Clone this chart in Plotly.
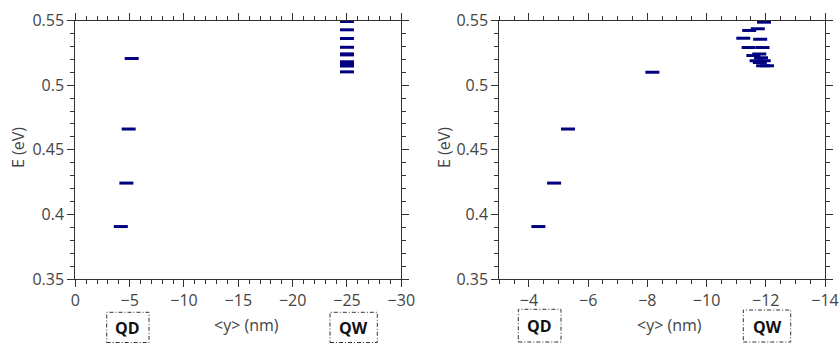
import plotly.graph_objects as go

# ---- data ----
left_qd_y = [-4.19, -4.70, -4.91, -5.19]
left_qd_E = [0.3907, 0.4243, 0.4661, 0.5206]
left_qw_y = [-25.0] * 11
left_qw_E = [0.5492, 0.5428, 0.5361, 0.5293, 0.5242, 0.5234, 0.5181, 0.5169, 0.5158, 0.5148, 0.5103]

right_qd_y = [-4.32, -4.85, -5.32, -8.17]
right_qd_E = [0.3907, 0.4243, 0.4661, 0.5100]
right_qw_y = [-11.94, -11.73, -11.44, -11.24, -11.81, -11.42, -11.89, -11.78, -11.58,
              -11.84, -11.69, -11.93, -11.80, -11.91, -12.04]
right_qw_E = [0.5487, 0.5436, 0.5423, 0.5363, 0.5355, 0.5291, 0.5291, 0.5241, 0.5229,
              0.5212, 0.5189, 0.5189, 0.5175, 0.5150, 0.5150]

x_title = "&lt;y&gt; (nm)"
y_title = "E (eV)"
region_labels = ["QD", "QW"]

COLOR = "#000080"
FONT = "Open Sans"
TXT = "#444"
AXC = "#333"

W, H = 839, 345
ML, MR, MT, MB = 40, 10, 10, 40
PW, PH = W - ML - MR, H - MT - MB


def px(x):
    return (x - ML) / PW


def py(y):
    return (H - MB - y) / PH


fig = go.Figure()

marker = dict(symbol="line-ew", size=10, line=dict(color=COLOR, width=3), color=COLOR)
for xs, es, ax in [(left_qd_y + left_qw_y, left_qd_E + left_qw_E, ("x", "y")),
                   (right_qd_y + right_qw_y, right_qd_E + right_qw_E, ("x2", "y2"))]:
    fig.add_trace(go.Scatter(x=xs, y=es, mode="markers", marker=marker, hoverinfo="skip",
                             xaxis=ax[0], yaxis=ax[1], showlegend=False, cliponaxis=False))

common = dict(showline=True, linecolor=AXC, linewidth=1, mirror="ticks", ticks="outside",
              ticklen=7, tickcolor=AXC, showgrid=False, zeroline=False, automargin=False,
              tickfont=dict(family=FONT, size=16, color=TXT))
ydom = [py(279.2), py(20.5)]
mnr = dict(ticklen=4, ticks="outside", tickcolor=AXC)

fig.update_layout(
    template="none",
    width=W, height=H, margin=dict(l=ML, r=MR, t=MT, b=MB),
    paper_bgcolor="white", plot_bgcolor="white",
    xaxis=dict(domain=[px(75.3), px(401.3)], range=[0, -30], dtick=5, tick0=0,
               minor=dict(dtick=1, **mnr), anchor="y", **common),
    yaxis=dict(domain=ydom, range=[0.35, 0.55], dtick=0.05, tick0=0,
               minor=dict(dtick=0.01, **mnr), anchor="x", **common),
    xaxis2=dict(domain=[px(499.3), px(825)], range=[-3, -14], dtick=2, tick0=0,
                minor=dict(dtick=0.5, **mnr), anchor="y2", **common),
    yaxis2=dict(domain=ydom, range=[0.35, 0.55], dtick=0.05, tick0=0,
                minor=dict(dtick=0.01, **mnr), anchor="x2", **common),
)

ann = []
shapes = []
# axis titles
for cx in (246.3, 669):
    ann.append(dict(text=x_title, x=px(cx), y=py(325), xref="paper", yref="paper",
                    showarrow=False, xanchor="center", yanchor="middle",
                    font=dict(family=FONT, size=16, color=TXT)))
for cx in (18, 444):
    ann.append(dict(text=y_title, x=px(cx), y=py(148), xref="paper", yref="paper",
                    showarrow=False, xanchor="center", yanchor="middle", textangle=-90,
                    font=dict(family=FONT, size=16, color=TXT)))

# region label boxes: (label, x0, x1, y0, y1)
boxes = [(region_labels[0], 106.7, 149.0, 312.3, 342.5),
         (region_labels[1], 330.0, 377.3, 312.3, 342.5),
         (region_labels[0], 518.3, 561.0, 309.3, 342.0),
         (region_labels[1], 743.3, 790.7, 310.0, 342.0)]
for lab, x0, x1, y0, y1 in boxes:
    shapes.append(dict(type="rect", xref="paper", yref="paper", x0=px(x0), x1=px(x1),
                       y0=py(y1), y1=py(y0), line=dict(color="#333", width=1, dash="4px,2px,1px,2px"),
                       fillcolor="rgba(0,0,0,0)"))
    ann.append(dict(text="<b>%s</b>" % lab, x=px((x0 + x1) / 2), y=py((y0 + y1) / 2 + 0.5),
                    xref="paper", yref="paper", showarrow=False, xanchor="center", yanchor="middle",
                    font=dict(family=FONT, size=16, color="#111")))

fig.update_layout(annotations=ann, shapes=shapes)
fig.write_html("out.html", config={"displayModeBar": False},
               post_script="document.body.style.margin='0';")
